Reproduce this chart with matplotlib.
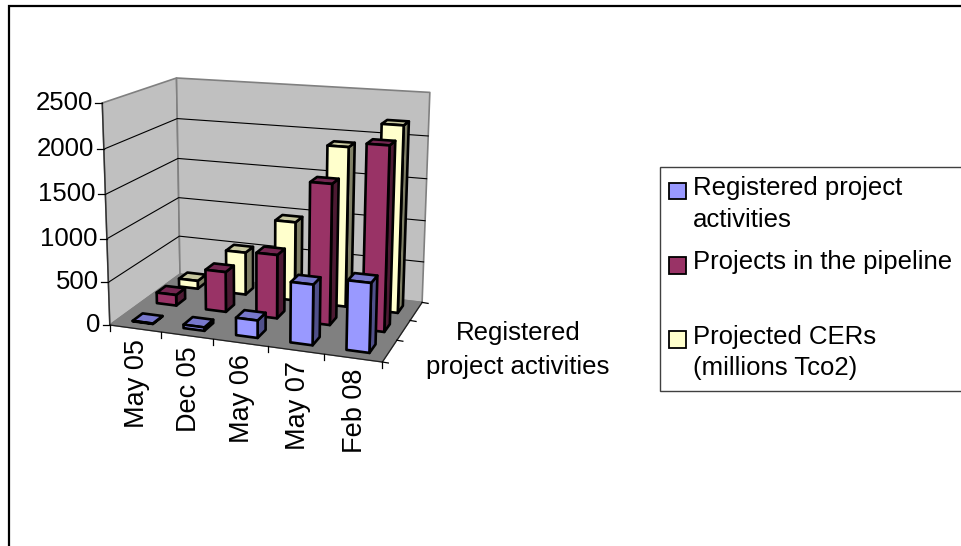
import numpy as np
import matplotlib
matplotlib.use('Agg')
import matplotlib.pyplot as plt
from matplotlib.patches import Polygon, Rectangle

plt.rcParams['font.family'] = ['Liberation Sans', 'DejaVu Sans']

# Datos de la grafica
meses = ['May 05', 'Dec 05', 'May 06', 'May 07', 'Feb 08']
registrados = [5, 40, 200, 680, 770]
en_pipeline = [130, 480, 750, 1620, 2090]
cers = [100, 525, 960, 1900, 2190]
series_valores = [registrados, en_pipeline, cers]
valor_ticks = [0, 500, 1000, 1500, 2000, 2500]

# Colores: frente, lado, tapa
colores = [('#9999FF', '#50508A', '#7878CC'),
           ('#993366', '#4D1A33', '#732650'),
           ('#FFFFCC', '#808066', '#C8C8A0')]
etiquetas_leyenda = ['Registered project\nactivities', 'Projects in the pipeline', 'Projected CERs\n(millions Tco2)']

VMAX = 2500.0
NC = len(meses)
NS = 3
ANCHO = 0.4  # gap de 150%
FUENTE = 18.5


def calibrar():
    # Camara 3x4 a partir de las esquinas de la caja (u, v, w) -> pixel
    cubo = [(0, 0, 0), (1, 0, 0), (1, 1, 0), (0, 1, 0), (0, 0, 1), (0, 1, 1), (1, 1, 1)]
    pix = [(110, 325), (381.7, 362.7), (422.5, 301.5), (180, 274.3),
           (102.7, 102.3), (176, 78.3), (430, 92.7)]
    A = []
    b = []
    for (u, v, w), (x, y) in zip(cubo, pix):
        A.append([u, v, w, 1, 0, 0, 0, 0, -x * u, -x * v, -x * w])
        b.append(x)
        A.append([0, 0, 0, 0, u, v, w, 1, -y * u, -y * v, -y * w])
        b.append(y)
    sol = np.linalg.lstsq(np.array(A), np.array(b), rcond=None)[0]
    return np.append(sol, 1.0).reshape(3, 4)


CAM = calibrar()


def proyectar(c, s, z):
    # c: categoria (0-5), s: serie (0-3), z: valor
    h = CAM @ np.array([c / NC, s / NS, z / VMAX, 1.0])
    return h[0] / h[2], h[1] / h[2]


def cara(ax, puntos, color, ec='black', lw=1.9, zorder=3):
    ax.add_patch(Polygon([proyectar(*p) for p in puntos], closed=True, facecolor=color,
                         edgecolor=ec, linewidth=lw, joinstyle='round', zorder=zorder))


def barra(ax, c, s, valor, cols):
    c0 = c + 0.5 - ANCHO / 2
    c1 = c + 0.5 + ANCHO / 2
    s0 = s + 0.5 - ANCHO / 2
    s1 = s + 0.5 + ANCHO / 2
    cara(ax, [(c1, s0, 0), (c1, s1, 0), (c1, s1, valor), (c1, s0, valor)], cols[1])
    cara(ax, [(c0, s0, valor), (c1, s0, valor), (c1, s1, valor), (c0, s1, valor)], cols[2])
    cara(ax, [(c0, s0, 0), (c1, s0, 0), (c1, s0, valor), (c0, s0, valor)], cols[0])


fig = plt.figure(figsize=(9.62, 5.46), dpi=100)
ax = fig.add_axes([0, 0, 1, 1])
ax.set_xlim(0, 962)
ax.set_ylim(546, 0)
ax.axis('off')

# Marco del area de la grafica
ax.add_patch(Rectangle((9.5, 5.5), 970, 560, facecolor='white', edgecolor='black', linewidth=1.6))

# Paredes y piso
cara(ax, [(0, 0, 0), (0, NS, 0), (0, NS, VMAX), (0, 0, VMAX)], '#C0C0C0', ec='#808080', lw=1.2, zorder=1)
cara(ax, [(0, NS, 0), (NC, NS, 0), (NC, NS, VMAX), (0, NS, VMAX)], '#C0C0C0', ec='#808080', lw=1.2, zorder=1)
cara(ax, [(0, 0, 0), (NC, 0, 0), (NC, NS, 0), (0, NS, 0)], '#808080', ec='#808080', lw=1.0, zorder=1)

# Lineas de division
for v in valor_ticks[1:-1]:
    a = proyectar(0, 0, v)
    b = proyectar(0, NS, v)
    d = proyectar(NC, NS, v)
    ax.plot([a[0], b[0], d[0]], [a[1], b[1], d[1]], color='black', lw=0.8, zorder=2)

# Ejes
eje_v = [proyectar(0, 0, 0), proyectar(0, 0, VMAX)]
ax.plot([p[0] for p in eje_v], [p[1] for p in eje_v], color='#303030', lw=1.0, zorder=2)
eje_c = [proyectar(0, 0, 0), proyectar(NC, 0, 0), proyectar(NC, NS, 0)]
ax.plot([p[0] for p in eje_c], [p[1] for p in eje_c], color='#202020', lw=0.9, zorder=2)

for v in valor_ticks:
    x, y = proyectar(0, 0, v)
    ax.plot([x - 7, x], [y, y], color='black', lw=0.9, zorder=2)
    ax.text(x - 9.5, y, str(v), ha='right', va='center', fontsize=FUENTE, color='black')

for c in range(NC + 1):
    x, y = proyectar(c, 0, 0)
    ax.plot([x, x], [y, y + 6], color='black', lw=0.9, zorder=2)

for s in range(NS + 1):
    x, y = proyectar(NC, s, 0)
    ax.plot([x, x + 6], [y, y + 1], color='black', lw=0.9, zorder=2)

for c, mes in enumerate(meses):
    x, y = proyectar(c + 0.5, 0, 0)
    ax.text(x + 2, y + 11, mes, rotation=90, ha='center', va='top', fontsize=19.5, color='black')

ax.text(518, 333, 'Registered', ha='center', va='center', fontsize=FUENTE, color='black')
ax.text(518, 367, 'project activities', ha='center', va='center', fontsize=FUENTE, color='black')

# Barras, de atras hacia adelante
for s in range(NS - 1, -1, -1):
    for c in range(NC):
        barra(ax, c, s, series_valores[s][c], colores[s])

# Leyenda
ax.add_patch(Rectangle((660.5, 167), 400, 224, facecolor='white', edgecolor='#404040', linewidth=1.0, zorder=4))
y_leyenda = [190.5, 265, 339]
y_texto = [[188, 220], [262], [337, 368]]
for col, yl, yt, etiqueta in zip(colores, y_leyenda, y_texto, etiquetas_leyenda):
    ax.add_patch(Rectangle((669.5, yl - 8), 16.5, 16.5, facecolor=col[0], edgecolor='black', linewidth=1.3, zorder=5))
    for y, linea in zip(yt, etiqueta.split('\n')):
        ax.text(693, y, linea, ha='left', va='center', fontsize=FUENTE, color='black', zorder=5)

plt.savefig('out.png', dpi=100)
plt.close()
